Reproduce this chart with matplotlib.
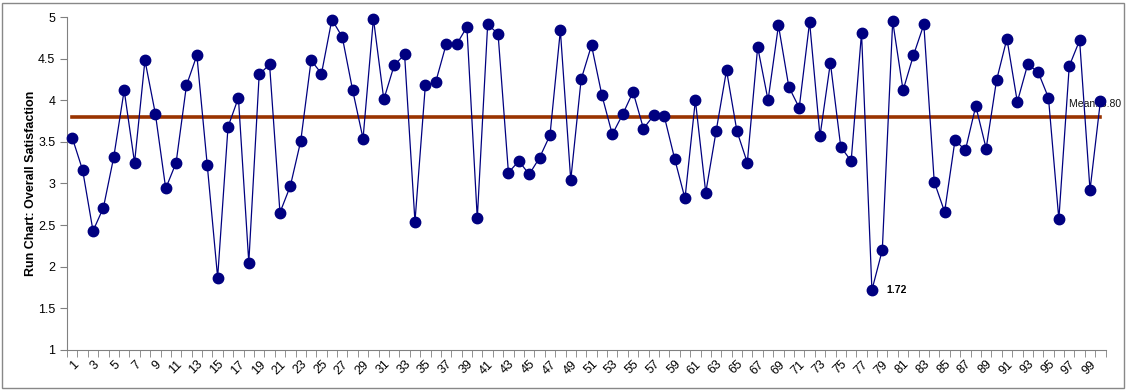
import matplotlib
matplotlib.use("Agg")
from matplotlib import pyplot as plt
from matplotlib.patches import Rectangle

plt.rcParams['font.family'] = ['Liberation Sans', 'DejaVu Sans']

obs = list(range(1, 101))
satisfaction = [
    3.55, 3.16, 2.43, 2.71, 3.32, 4.12, 3.25, 4.48, 3.84, 2.94,
    3.25, 4.18, 4.54, 3.22, 1.87, 3.68, 4.03, 2.05, 4.31, 4.43,
    2.65, 2.97, 3.51, 4.48, 4.32, 4.97, 4.76, 4.12, 3.54, 4.98,
    4.01, 4.42, 4.55, 2.54, 4.18, 4.22, 4.67, 4.67, 4.88, 2.58,
    4.91, 4.80, 3.13, 3.27, 3.11, 3.31, 3.58, 4.84, 3.04, 4.25,
    4.66, 4.06, 3.59, 3.83, 4.10, 3.66, 3.82, 3.81, 3.30, 2.82,
    4.00, 2.89, 3.63, 4.36, 3.63, 3.25, 4.64, 4.00, 4.90, 4.16,
    3.91, 4.94, 3.57, 4.45, 3.44, 3.27, 4.81, 1.72, 2.20, 4.95,
    4.12, 4.54, 4.91, 3.02, 2.66, 3.52, 3.40, 3.93, 3.42, 4.24,
    4.74, 3.98, 4.43, 4.34, 4.03, 2.57, 4.41, 4.72, 2.92, 3.99,
]
mean_value = 3.80
min_label = "1.72"
min_obs = 78

fig = plt.figure(figsize=(11.27, 3.9), dpi=100)
ax = fig.add_axes([0.0595, 0.1026, 0.9215, 0.8538])

# outer chart border
fig.patches.append(Rectangle((0.002, 0.006), 0.995, 0.986, transform=fig.transFigure,
                             fill=False, edgecolor='#888888', linewidth=1))

ax.plot([obs[0], obs[-1]], [mean_value, mean_value], color='#993300', lw=2.6, zorder=2)
ax.plot(obs, satisfaction, color='#000080', lw=0.9, marker='o', markersize=7.5,
        markerfacecolor='#000080', markeredgecolor='#000080', zorder=3, clip_on=False)

ax.text(obs[-1] + 2, mean_value + 0.1, f"Mean: {mean_value:.2f}", ha='right', va='bottom',
        fontsize=7.5, color='#111111', zorder=1)
ax.text(min_obs + 1.4, satisfaction[min_obs - 1], min_label, ha='left', va='center',
        fontsize=7.5, fontweight='bold')

ax.set_xlim(0.5, 100.5)
ax.set_ylim(1, 5)
ax.set_yticks([1, 1.5, 2, 2.5, 3, 3.5, 4, 4.5, 5])
ax.set_yticklabels(['1', '1.5', '2', '2.5', '3', '3.5', '4', '4.5', '5'], fontsize=9)

odd = obs[::2]
ax.set_xticks(odd)
ax.set_xticklabels([str(v) for v in odd], rotation=45, ha='right', rotation_mode='anchor',
                   fontsize=9)
ax.tick_params(axis='x', which='major', length=0, pad=6)
ax.set_xticks([v + 0.5 for v in range(0, 101)], minor=True)
ax.tick_params(axis='x', which='minor', length=5, color='#808080')
ax.tick_params(axis='y', length=5, color='#808080')

for side in ['top', 'right']:
    ax.spines[side].set_visible(False)
for side in ['left', 'bottom']:
    ax.spines[side].set_color('#808080')

ax.set_ylabel('Run Chart: Overall Satisfaction', fontsize=9, fontweight='bold', labelpad=1)

fig.savefig('out.png', dpi=100)
